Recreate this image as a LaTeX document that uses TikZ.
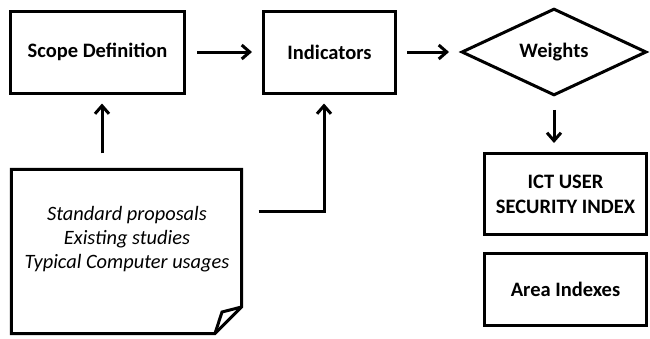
\documentclass[tikz,border=0pt]{standalone}
\usepackage{fontspec}
\setmainfont{Carlito}
\usetikzlibrary{shapes.geometric,arrows.meta}
\tikzset{
  box/.style={draw, line width=3pt, inner sep=0pt, align=center,
    font=\bfseries\fontsize{20.5}{25}\selectfont},
  flow/.style={line width=3pt, -{Straight Barb[length=8pt,width=14pt]}}
}
\begin{document}
\begin{tikzpicture}[x=1pt,y=-1pt]
    \useasboundingbox (0,0) rectangle (650,338);
    % top row
    \node [box, minimum width=174pt, minimum height=82pt] (scope) at (97.5,52) {Scope Definition};
    \node [box, minimum width=132pt, minimum height=82pt] (ind) at (329.5,52) {Indicators};
    \node [box, diamond, minimum width=185pt, minimum height=73pt] (w) at (554,52) {Weights};
    % results on the right
    \node [box, minimum width=162pt, minimum height=81pt] (ict) at (565.5,194) {ICT USER\\SECURITY INDEX};
    \node [box, minimum width=162pt, minimum height=72pt] (area) at (565.5,289.5) {Area Indexes};
    % sources note with folded corner
    \node [minimum width=230pt, minimum height=164pt, inner sep=0pt] (note) at (126.5,251.5) {};
    \draw [line width=3pt, line join=miter] (note.north west) -- (note.north east) -- (241.5,307)
      -- (215,333.5) -- (note.south west) -- cycle;
    \draw [line width=3pt] (241.5,307) -- (222,312) -- (215,333.5);
    \node [font=\itshape\fontsize{20.4}{24}\selectfont, align=center] (src) at (127,239)
      {Standard proposals\\Existing studies\\Typical Computer usages};
    % connectors
    \draw [flow, shorten <=11pt, shorten >=10pt] (scope.east) -- (ind.west);
    \draw [flow, shorten <=10pt, shorten >=11pt] (ind.east) -- (w.west);
    \draw [flow, shorten <=13pt, shorten >=9pt] (w.south) -- (w.south |- ict.north);
    \draw [flow, shorten <=16pt, shorten >=9pt] ([xshift=4.5pt]scope.south |- note.north) -- ([xshift=4.5pt]scope.south);
    \draw [flow, shorten <=17pt, shorten >=9pt] ([yshift=40pt]note.east) -| ([xshift=-5.5pt]ind.south);
  \end{tikzpicture}
\end{document}
